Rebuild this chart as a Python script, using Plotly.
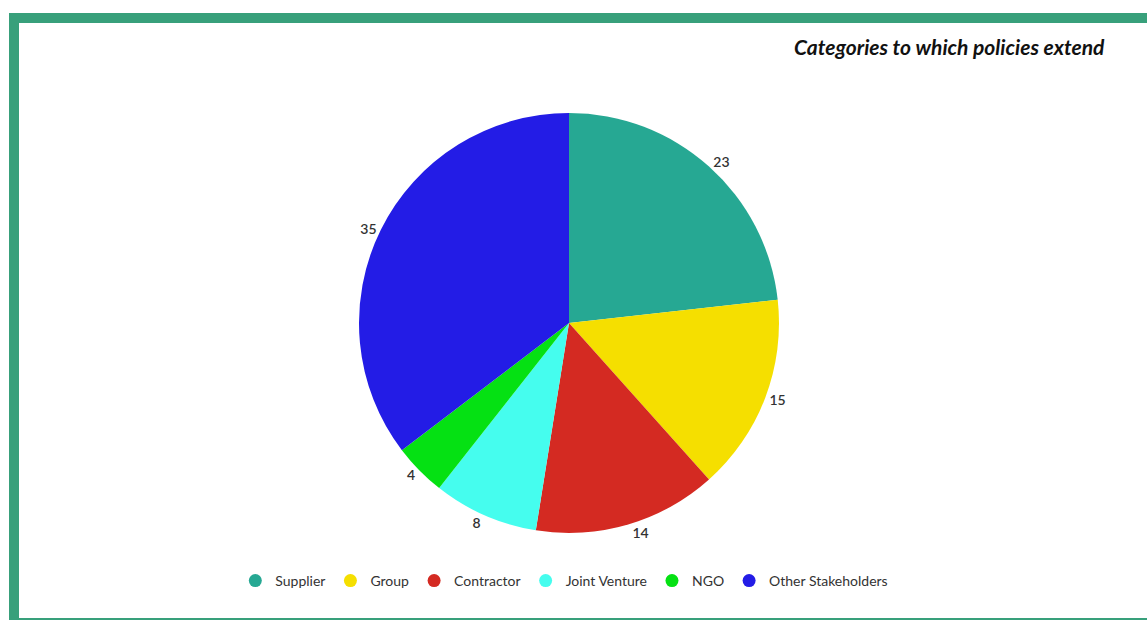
import plotly.graph_objects as go

categories = ["Supplier", "Group", "Contractor", "Joint Venture", "NGO", "Other Stakeholders"]
counts = [23, 15, 14, 8, 4, 35]
colors = ["#26A893", "#F5DF00", "#D42A22", "#45FDEE", "#05E113", "#231CE6"]

W, H = 1147, 620
cx, cy, r = 569, 323, 210

fig = go.Figure()

fig.add_trace(go.Pie(
    labels=categories,
    values=counts,
    marker=dict(colors=colors, line=dict(width=0)),
    sort=False,
    direction="clockwise",
    rotation=0,
    textinfo="value",
    textposition="outside",
    outsidetextfont=dict(family="Lato", size=14, color="#333333", weight=600),
    hoverinfo="label+value",
    showlegend=False,
    domain=dict(x=[(cx - r) / W, (cx + r) / W], y=[(H - cy - r) / H, (H - cy + r) / H]),
))

# Legend entries drawn as circular markers
for name, col in zip(categories, colors):
    fig.add_trace(go.Scatter(
        x=[None], y=[None], mode="markers", name=name,
        marker=dict(symbol="circle", size=13, color=col),
        showlegend=True,
    ))

frame = "#38A07B"
fig.update_layout(
    width=W, height=H,
    margin=dict(l=0, r=0, t=0, b=0),
    paper_bgcolor="white",
    plot_bgcolor="white",
    xaxis=dict(visible=False),
    yaxis=dict(visible=False),
    font=dict(family="Lato", color="#333333"),
    legend=dict(
        orientation="h", x=0.492, xanchor="center", y=(H - 581) / H, yanchor="middle",
        font=dict(family="Lato", size=14, color="#333333"),
        itemwidth=30, tracegroupgap=0,
    ),
    annotations=[dict(
        text="<b><i>Categories to which policies extend</i></b>",
        x=1107 / W, xref="paper", xanchor="right",
        y=(H - 46) / H, yref="paper", yanchor="middle",
        showarrow=False, font=dict(family="Lato", size=21, color="#111111"),
    )],
    shapes=[
        dict(type="rect", xref="paper", yref="paper", x0=9 / W, x1=1.0,
             y0=(H - 23) / H, y1=(H - 13) / H, fillcolor=frame, line=dict(width=0)),
        dict(type="rect", xref="paper", yref="paper", x0=9 / W, x1=19 / W,
             y0=0, y1=(H - 13) / H, fillcolor=frame, line=dict(width=0)),
        dict(type="rect", xref="paper", yref="paper", x0=19 / W, x1=1.0,
             y0=0, y1=2 / H, fillcolor=frame, line=dict(width=0)),
    ],
)

fig.write_html("out.html")
